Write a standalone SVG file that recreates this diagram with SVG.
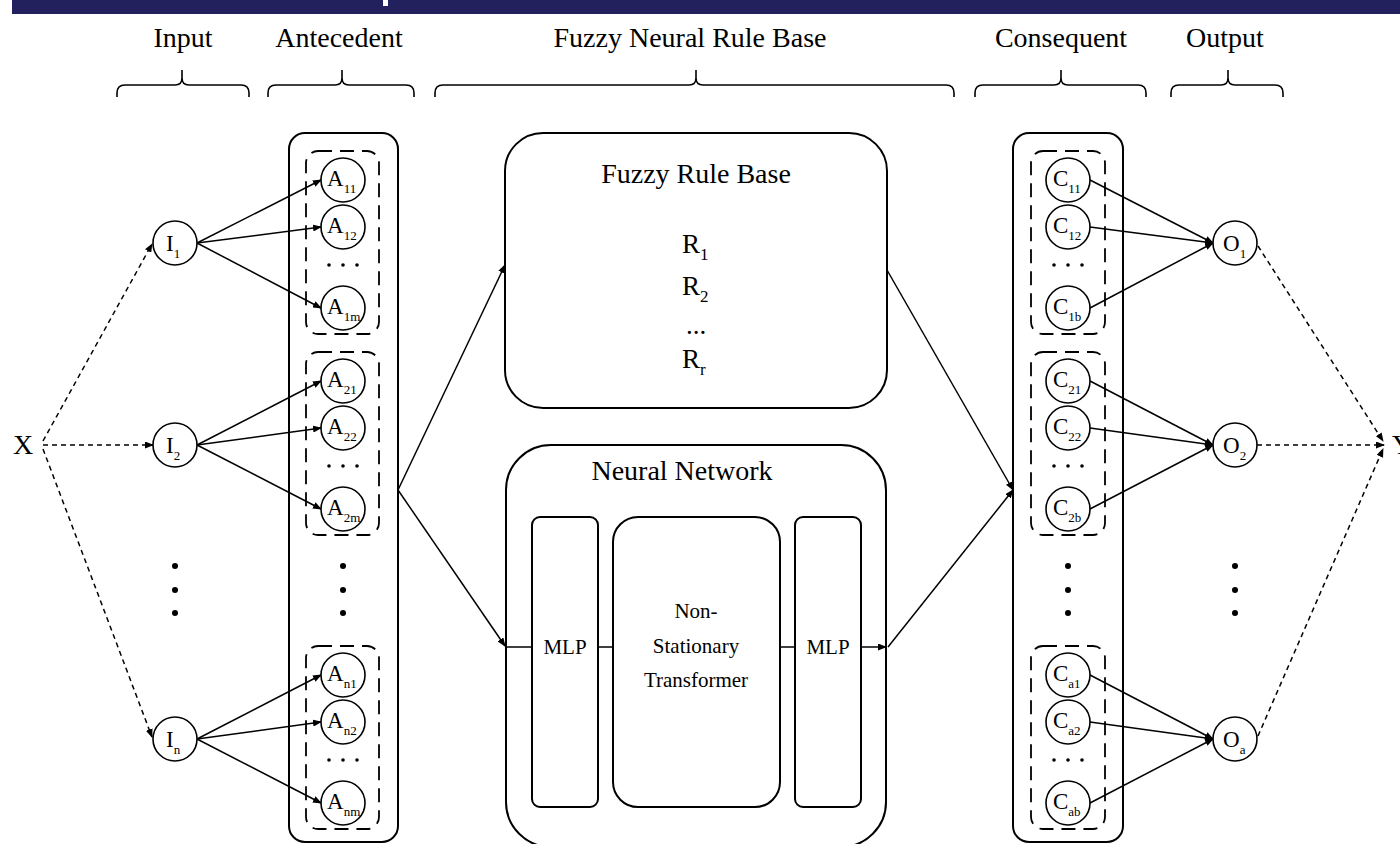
<svg xmlns="http://www.w3.org/2000/svg" width="1400" height="844" viewBox="0 0 1400 844">
<style>
text{font-family:"Liberation Serif","Times New Roman",serif;fill:#000}
.lbl{font-size:28px;text-anchor:middle}
.ttl{font-size:28px;text-anchor:middle}
.nt{font-size:23px}
.sub{font-size:13px}
.rt{font-size:27px}
.rs{font-size:17px}
.sm{font-size:21px;text-anchor:middle}
.nd circle{fill:#fff;stroke:#000;stroke-width:1.6}
.nd circle.d{fill:#000;stroke:none}
.box{fill:none;stroke:#000;stroke-width:2}
.dbox{fill:none;stroke:#000;stroke-width:1.8;stroke-dasharray:14 8}
.brace{fill:none;stroke:#000;stroke-width:1.6}
.conn{fill:none;stroke:#000;stroke-width:1.5}
.arr{marker-end:url(#ah)}
.dot{fill:none;stroke:#000;stroke-width:1.5;stroke-dasharray:5 4;marker-end:url(#ah)}
</style>
<defs>
<marker id="ah" markerUnits="userSpaceOnUse" markerWidth="9" markerHeight="7" refX="8" refY="3.5" orient="auto">
<path d="M0,0 L9,3.5 L0,7 z" fill="#000"/>
</marker>
</defs>
<rect width="1400" height="844" fill="#fff"/>
<g id="banner">
<rect x="12" y="0" width="1388" height="14" fill="#22215e"/>
<rect x="383" y="0" width="5" height="6" fill="#fff"/>
</g>
<g id="headers">
<text class="lbl" x="183" y="47">Input</text>
<text class="lbl" x="339" y="47">Antecedent</text>
<text class="lbl" x="690" y="47">Fuzzy Neural Rule Base</text>
<text class="lbl" x="1061" y="47">Consequent</text>
<text class="lbl" x="1225" y="47">Output</text>
<path class="brace" d="M117,97 V93 Q117,85 125,85 H175 Q182,85 182,78 V70 M182,78 Q182,85 189,85 H241 Q249,85 249,93 V97"/>
<path class="brace" d="M268,97 V93 Q268,85 276,85 H335 Q342,85 342,78 V70 M342,78 Q342,85 349,85 H406 Q414,85 414,93 V97"/>
<path class="brace" d="M435,97 V93 Q435,85 443,85 H689 Q696,85 696,78 V70 M696,78 Q696,85 703,85 H946 Q954,85 954,93 V97"/>
<path class="brace" d="M975,97 V93 Q975,85 983,85 H1054 Q1061,85 1061,78 V70 M1061,78 Q1061,85 1068,85 H1138 Q1146,85 1146,93 V97"/>
<path class="brace" d="M1171,97 V93 Q1171,85 1179,85 H1221 Q1228,85 1228,78 V70 M1228,78 Q1228,85 1235,85 H1275 Q1283,85 1283,93 V97"/>
</g>
<g id="connectors">
<path class="dot" d="M43,441 L152,244"/>
<path class="dot" d="M43,445 L153,445"/>
<path class="dot" d="M43,449 L152,737"/>
<path class="conn arr" d="M197,243 L321,180"/>
<path class="conn arr" d="M197,243 L321,227"/>
<path class="conn arr" d="M197,243 L321,308"/>
<path class="conn arr" d="M197,445 L321,381"/>
<path class="conn arr" d="M197,445 L321,428"/>
<path class="conn arr" d="M197,445 L321,509"/>
<path class="conn arr" d="M197,739 L321,675"/>
<path class="conn arr" d="M197,739 L321,722"/>
<path class="conn arr" d="M197,739 L321,803"/>
<path class="conn arr" d="M398,490 L505,265"/>
<path class="conn arr" d="M398,490 L505,646"/>
<path class="conn" d="M506,647 H532 M598,647 H613 M780,647 H795"/>
<path class="conn arr" d="M861,647 H886"/>
<path class="conn arr" d="M887,270 L1013,490"/>
<path class="conn arr" d="M888,647 L1013,490"/>
<path class="conn arr" d="M1090,180 L1213,243"/>
<path class="conn arr" d="M1090,227 L1213,243"/>
<path class="conn arr" d="M1090,308 L1213,243"/>
<path class="conn arr" d="M1090,381 L1213,445"/>
<path class="conn arr" d="M1090,428 L1213,445"/>
<path class="conn arr" d="M1090,509 L1213,445"/>
<path class="conn arr" d="M1090,675 L1213,739"/>
<path class="conn arr" d="M1090,722 L1213,739"/>
<path class="conn arr" d="M1090,803 L1213,739"/>
<path class="dot" d="M1258,246 L1383,441"/>
<path class="dot" d="M1257,445 L1384,445"/>
<path class="dot" d="M1258,736 L1383,449"/>
</g>
<g id="X"><text class="lbl" x="23" y="454">X</text></g>
<g id="Y"><text class="lbl" x="1392" y="454" style="text-anchor:start">Y</text></g>
<g id="inputs" class="nd">
<g id="I1"><circle cx="175" cy="243" r="22"/><text class="nt" x="166" y="251">I<tspan class="sub" dy="7">1</tspan></text></g>
<g id="I2"><circle cx="175" cy="445" r="22"/><text class="nt" x="166" y="453">I<tspan class="sub" dy="7">2</tspan></text></g>
<g id="In"><circle cx="175" cy="739" r="22"/><text class="nt" x="166" y="747">I<tspan class="sub" dy="7">n</tspan></text></g>
<circle class="d" cx="175" cy="566" r="3"/>
<circle class="d" cx="175" cy="590" r="3"/>
<circle class="d" cx="175" cy="613" r="3"/>
</g>
<g id="antecedent" class="nd">
<rect class="box" x="289" y="133" width="109" height="709" rx="16"/>
<rect class="dbox" x="306" y="151" width="73" height="183" rx="12"/>
<rect class="dbox" x="306" y="352" width="73" height="183" rx="12"/>
<rect class="dbox" x="306" y="646" width="73" height="183" rx="12"/>
<g id="A11"><circle cx="343" cy="180" r="22"/><text class="nt" x="327" y="186">A<tspan class="sub" dy="7">11</tspan></text></g>
<g id="A12"><circle cx="343" cy="227" r="22"/><text class="nt" x="327" y="233">A<tspan class="sub" dy="7">12</tspan></text></g>
<g id="A1m"><circle cx="343" cy="308" r="22"/><text class="nt" x="327" y="314">A<tspan class="sub" dy="7">1m</tspan></text></g>
<g id="A21"><circle cx="343" cy="381" r="22"/><text class="nt" x="327" y="387">A<tspan class="sub" dy="7">21</tspan></text></g>
<g id="A22"><circle cx="343" cy="428" r="22"/><text class="nt" x="327" y="434">A<tspan class="sub" dy="7">22</tspan></text></g>
<g id="A2m"><circle cx="343" cy="509" r="22"/><text class="nt" x="327" y="515">A<tspan class="sub" dy="7">2m</tspan></text></g>
<g id="An1"><circle cx="343" cy="675" r="22"/><text class="nt" x="327" y="681">A<tspan class="sub" dy="7">n1</tspan></text></g>
<g id="An2"><circle cx="343" cy="722" r="22"/><text class="nt" x="327" y="728">A<tspan class="sub" dy="7">n2</tspan></text></g>
<g id="Anm"><circle cx="343" cy="803" r="22"/><text class="nt" x="327" y="809">A<tspan class="sub" dy="7">nm</tspan></text></g>
<circle class="d" cx="329" cy="265" r="1.8"/><circle class="d" cx="343" cy="265" r="1.8"/><circle class="d" cx="357" cy="265" r="1.8"/>
<circle class="d" cx="329" cy="466" r="1.8"/><circle class="d" cx="343" cy="466" r="1.8"/><circle class="d" cx="357" cy="466" r="1.8"/>
<circle class="d" cx="329" cy="760" r="1.8"/><circle class="d" cx="343" cy="760" r="1.8"/><circle class="d" cx="357" cy="760" r="1.8"/>
<circle class="d" cx="343" cy="566" r="3"/><circle class="d" cx="343" cy="590" r="3"/><circle class="d" cx="343" cy="613" r="3"/>
</g>
<g id="fuzzy-rule-base">
<rect class="box" x="505" y="133" width="382" height="275" rx="38"/>
<text class="ttl" x="696" y="183">Fuzzy Rule Base</text>
<text class="rt" x="682" y="253">R<tspan class="rs" dy="7">1</tspan></text>
<text class="rt" x="682" y="295">R<tspan class="rs" dy="7">2</tspan></text>
<text class="rt" x="696" y="334" style="text-anchor:middle">...</text>
<text class="rt" x="682" y="368">R<tspan class="rs" dy="7">r</tspan></text>
</g>
<g id="neural-network">
<rect class="box" x="506" y="445" width="380" height="402" rx="45"/>
<text class="ttl" x="682" y="480">Neural Network</text>
<g id="mlp1"><rect class="box" x="532" y="517" width="66" height="290" rx="8"/><text class="sm" x="565" y="654">MLP</text></g>
<g id="transformer"><rect class="box" x="613" y="517" width="167" height="290" rx="25"/>
<text class="sm" x="696" y="618">Non-</text><text class="sm" x="696" y="653">Stationary</text><text class="sm" x="696" y="687">Transformer</text></g>
<g id="mlp2"><rect class="box" x="795" y="517" width="66" height="290" rx="8"/><text class="sm" x="828" y="654">MLP</text></g>
</g>
<g id="consequent" class="nd">
<rect class="box" x="1013" y="133" width="110" height="709" rx="16"/>
<rect class="dbox" x="1031" y="151" width="74" height="183" rx="12"/>
<rect class="dbox" x="1031" y="352" width="74" height="183" rx="12"/>
<rect class="dbox" x="1031" y="646" width="74" height="183" rx="12"/>
<g id="C11"><circle cx="1068" cy="180" r="22"/><text class="nt" x="1053" y="186">C<tspan class="sub" dy="7">11</tspan></text></g>
<g id="C12"><circle cx="1068" cy="227" r="22"/><text class="nt" x="1053" y="233">C<tspan class="sub" dy="7">12</tspan></text></g>
<g id="C1b"><circle cx="1068" cy="308" r="22"/><text class="nt" x="1053" y="314">C<tspan class="sub" dy="7">1b</tspan></text></g>
<g id="C21"><circle cx="1068" cy="381" r="22"/><text class="nt" x="1053" y="387">C<tspan class="sub" dy="7">21</tspan></text></g>
<g id="C22"><circle cx="1068" cy="428" r="22"/><text class="nt" x="1053" y="434">C<tspan class="sub" dy="7">22</tspan></text></g>
<g id="C2b"><circle cx="1068" cy="509" r="22"/><text class="nt" x="1053" y="515">C<tspan class="sub" dy="7">2b</tspan></text></g>
<g id="Ca1"><circle cx="1068" cy="675" r="22"/><text class="nt" x="1053" y="681">C<tspan class="sub" dy="7">a1</tspan></text></g>
<g id="Ca2"><circle cx="1068" cy="722" r="22"/><text class="nt" x="1053" y="728">C<tspan class="sub" dy="7">a2</tspan></text></g>
<g id="Cab"><circle cx="1068" cy="803" r="22"/><text class="nt" x="1053" y="809">C<tspan class="sub" dy="7">ab</tspan></text></g>
<circle class="d" cx="1054" cy="265" r="1.8"/><circle class="d" cx="1068" cy="265" r="1.8"/><circle class="d" cx="1082" cy="265" r="1.8"/>
<circle class="d" cx="1054" cy="466" r="1.8"/><circle class="d" cx="1068" cy="466" r="1.8"/><circle class="d" cx="1082" cy="466" r="1.8"/>
<circle class="d" cx="1054" cy="760" r="1.8"/><circle class="d" cx="1068" cy="760" r="1.8"/><circle class="d" cx="1082" cy="760" r="1.8"/>
<circle class="d" cx="1068" cy="566" r="3"/><circle class="d" cx="1068" cy="590" r="3"/><circle class="d" cx="1068" cy="613" r="3"/>
</g>
<g id="outputs" class="nd">
<g id="O1"><circle cx="1235" cy="243" r="22"/><text class="nt" x="1223" y="251">O<tspan class="sub" dy="7">1</tspan></text></g>
<g id="O2"><circle cx="1235" cy="445" r="22"/><text class="nt" x="1223" y="453">O<tspan class="sub" dy="7">2</tspan></text></g>
<g id="Oa"><circle cx="1235" cy="739" r="22"/><text class="nt" x="1223" y="747">O<tspan class="sub" dy="7">a</tspan></text></g>
<circle class="d" cx="1235" cy="566" r="3"/>
<circle class="d" cx="1235" cy="590" r="3"/>
<circle class="d" cx="1235" cy="613" r="3"/>
</g>
</svg>
